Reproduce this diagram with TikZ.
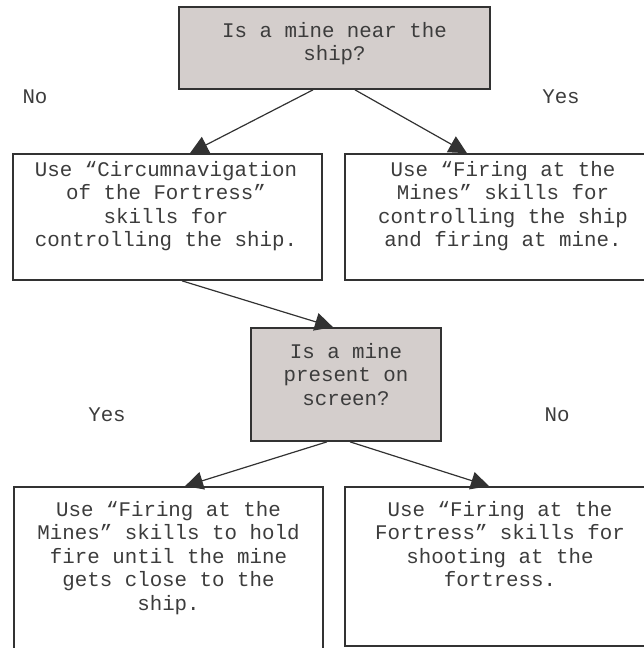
\documentclass[tikz,border=0pt]{standalone}
\usepackage{fontspec}
\setmonofont{Liberation Mono}
\usetikzlibrary{arrows.meta}
\definecolor{qfill}{RGB}{212,206,204}
\definecolor{edge}{RGB}{50,50,50}
\definecolor{ink}{RGB}{60,60,60}
\begin{document}
\begin{tikzpicture}[x=1pt,y=-1pt,
  box/.style={draw=edge,line width=1.7pt,inner sep=0pt,rectangle},
  question/.style={box,fill=qfill},
  txt/.style={font=\ttfamily\fontsize{20.8}{23.5}\selectfont,text=ink,align=center,inner sep=0pt,anchor=base},
  lbl/.style={font=\ttfamily\fontsize{20.8}{23.5}\selectfont,text=ink,inner sep=0pt,anchor=base},
  flow/.style={draw=edge,line width=1.2pt,-{Triangle[length=18pt,width=18pt]}}]
\clip (0,0) rectangle (644,648);

% boxes (drawn empty, text is set separately so it sits near the top)
\node[question,minimum width=311pt,minimum height=82pt] (q1) at (334.5,48) {};
\node[box,minimum width=309pt,minimum height=126pt] (a1) at (167.5,217) {};
\node[box,minimum width=316pt,minimum height=126pt] (b1) at (503,217) {};
\node[question,minimum width=190pt,minimum height=113pt] (q2) at (346,384.5) {};
\node[box,minimum width=309pt,minimum height=173pt] (a2) at (168.5,573.5) {};
\node[box,minimum width=310pt,minimum height=159pt] (b2) at (500,566.5) {};

% box texts (anchored on the baseline of their last line)
\node[txt] (q1t) at (334.5,60.5) {Is a mine near the\\ship?};
\node[txt] (a1t) at (166,246.5) {Use “Circumnavigation\\of the Fortress”\\skills for\\controlling the ship.};
\node[txt] (b1t) at (503,246.5) {Use “Firing at the\\Mines” skills for\\controlling the ship\\and firing at mine.};
\node[txt] (q2t) at (346,405) {Is a mine\\present on\\screen?};
\node[txt] (a2t) at (168.5,610) {Use “Firing at the\\Mines” skills to hold\\fire until the mine\\gets close to the\\ship.};
\node[txt] (b2t) at (500,586.5) {Use “Firing at the\\Fortress” skills for\\shooting at the\\fortress.};

% branch labels
\node[lbl] (no1) at (35,103) {No};
\node[lbl] (yes1) at (561,103) {Yes};
\node[lbl] (yes2) at (107,421) {Yes};
\node[lbl] (no2) at (557,421) {No};

% connectors
\draw[flow] ([xshift=-21.5pt]q1.south) -- ([xshift=22.5pt]a1.north);
\draw[flow] ([xshift=20.5pt]q1.south) -- ([xshift=-36pt]b1.north);
\draw[flow] ([xshift=14.5pt]a1.south) -- ([xshift=-13pt]q2.north);
\draw[flow] ([xshift=-19pt]q2.south) -- ([xshift=16.5pt]a2.north);
\draw[flow] ([xshift=4pt]q2.south) -- ([xshift=-11pt]b2.north);
\end{tikzpicture}
\end{document}
